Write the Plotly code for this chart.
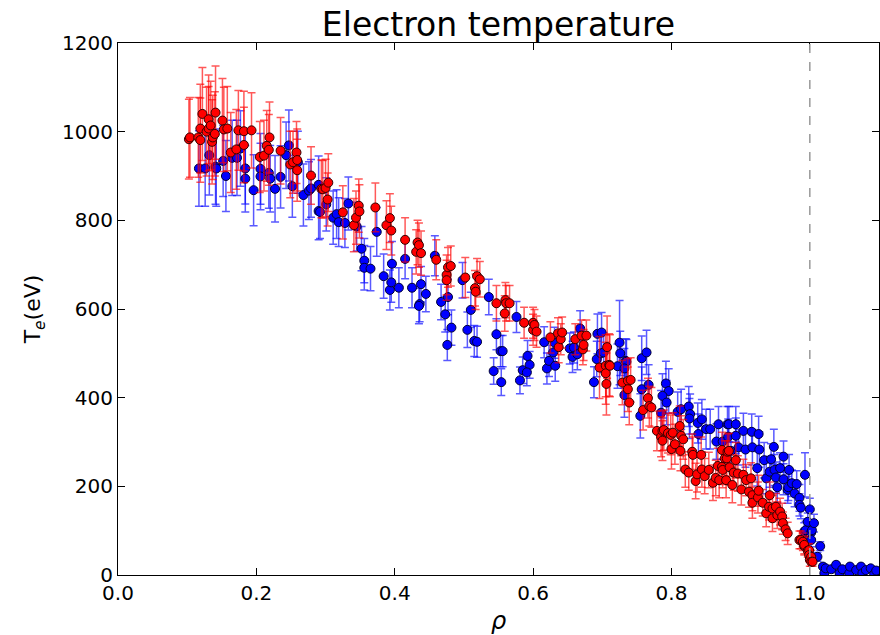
import plotly.graph_objects as go

# ---- data ----
blue_rho = [0.117, 0.126, 0.132, 0.141, 0.142, 0.152, 0.156, 0.165, 0.172, 0.177, 0.184, 0.184, 0.196, 0.206, 0.206,
            0.218, 0.220, 0.227, 0.235, 0.243, 0.247, 0.252, 0.260, 0.268, 0.276, 0.279, 0.290, 0.290,
            0.292, 0.301, 0.311, 0.316, 0.319, 0.328, 0.333, 0.345, 0.352, 0.356, 0.356, 0.365, 0.374, 0.384,
            0.393, 0.396, 0.395, 0.406, 0.415, 0.425, 0.436, 0.435, 0.438, 0.445, 0.458, 0.467, 0.473, 0.477,
            0.482, 0.476, 0.498, 0.505,
            0.510, 0.515, 0.519, 0.536, 0.543, 0.547, 0.553, 0.556, 0.554, 0.576, 0.581, 0.585, 0.592, 0.595,
            0.591, 0.616, 0.620, 0.623, 0.629, 0.632, 0.631, 0.653, 0.657, 0.659, 0.664, 0.668, 0.688, 0.692,
            0.693, 0.699, 0.698, 0.702,
            0.725, 0.726, 0.722, 0.734, 0.735, 0.732, 0.732, 0.757, 0.764, 0.757, 0.767, 0.755, 0.792, 0.796,
            0.787, 0.793, 0.785, 0.809, 0.814, 0.825, 0.827, 0.826, 0.838, 0.844, 0.839, 0.850, 0.856, 0.865,
            0.868, 0.881,
            0.874, 0.882, 0.883, 0.886, 0.893, 0.893, 0.897, 0.904, 0.907, 0.916, 0.917, 0.924, 0.926, 0.927,
            0.934, 0.937, 0.942, 0.944, 0.948, 0.949, 0.951, 0.953, 0.957, 0.962, 0.962, 0.968, 0.969, 0.970,
            0.974, 0.978, 0.981, 0.985, 0.985, 0.987, 0.993, 0.992, 0.994, 0.995, 0.997, 1.000, 1.002, 1.002,
            1.003, 1.006, 1.011, 1.015, 1.019, 1.021, 1.023, 1.031, 1.038, 1.043, 1.047, 1.057, 1.058, 1.067,
            1.074, 1.076, 1.081, 1.088, 1.093, 1.096]
blue_te = [917, 917, 947, 921, 917, 934, 900, 941, 941, 962, 917, 894, 868, 916, 899,
           907, 894, 871, 898, 947, 969, 877, 931, 857, 867, 872, 880, 821,
           819, 836, 806, 814, 796, 794, 838, 786, 736, 709, 693, 691, 774, 674,
           643, 702, 660, 648, 713, 648, 611, 607, 656, 634, 720, 616, 588, 627,
           558, 519, 665, 553,
           598, 528, 526, 627, 460, 543, 505, 505, 435, 582, 439, 462, 494, 474,
           457, 525, 466, 483, 502, 472, 524, 511, 492, 513, 498, 556, 435, 487,
           544, 547, 500, 502,
           524, 500, 471, 483, 481, 466, 406, 489, 502, 419, 429, 359, 432, 415,
           404, 389, 366, 368, 374, 380, 363, 353, 343, 351, 318, 329, 329, 301,
           340, 340,
           301, 312, 340, 280, 340, 314, 288, 325, 283, 323, 288, 241, 318, 283,
           259, 218, 233, 261, 289, 237, 220, 198, 241, 267, 216, 192, 198, 237,
           207, 184, 205, 174, 158, 152, 226, 98, 101, 77, 120, 148, 96, 79,
           101, 117, 41, 65, 19, 4, 15, 13, 23, 4, 13, 4, 19, 11,
           19, 4, 11, 15, 2, 10]
blue_err = [85, 85, 90, 85, 85, 80, 80, 85, 85, 85, 80, 75, 80, 80, 75,
            80, 75, 75, 70, 75, 80, 70, 70, 70, 65, 65, 65, 65,
            60, 60, 60, 55, 55, 55, 60, 55, 50, 50, 50, 50, 55, 50,
            45, 50, 45, 45, 45, 45, 40, 40, 40, 40, 45, 40, 40, 40,
            40, 35, 40, 40,
            40, 35, 35, 40, 30, 35, 35, 35, 30, 35, 30, 30, 35, 30,
            30, 35, 35, 35, 35, 35, 35, 35, 35, 35, 35, 40, 35, 40,
            45, 45, 40, 45,
            95, 50, 50, 50, 50, 45, 50, 50, 50, 50, 45, 50, 50, 50,
            50, 50, 50, 45, 45, 45, 45, 45, 45, 45, 45, 45, 45, 40,
            40, 40,
            40, 40, 40, 40, 40, 40, 40, 40, 40, 40, 40, 40, 40, 40,
            40, 35, 35, 35, 40, 35, 35, 35, 35, 35, 35, 30, 30, 35,
            30, 30, 30, 30, 25, 25, 50, 20, 20, 20, 20, 25, 20, 15,
            20, 20, 10, 10, 5, 3, 5, 5, 5, 3, 5, 3, 5, 5,
            5, 3, 5, 5, 3, 5]

red_rho = [0.1025, 0.104, 0.116, 0.119, 0.119, 0.122, 0.128, 0.131, 0.131, 0.134, 0.136, 0.137, 0.140, 0.141,
           0.151, 0.153, 0.158, 0.163, 0.171, 0.174, 0.182, 0.182, 0.193, 0.205, 0.211, 0.215, 0.218, 0.219,
           0.235, 0.249, 0.253, 0.258, 0.259, 0.259, 0.279, 0.294, 0.296, 0.300, 0.304, 0.303,
           0.325, 0.341, 0.344, 0.348, 0.349, 0.372, 0.388, 0.393, 0.395, 0.415, 0.431, 0.433, 0.435, 0.438,
           0.460, 0.475, 0.475, 0.477, 0.481, 0.502, 0.516, 0.517, 0.519, 0.523, 0.547, 0.559, 0.560, 0.561,
           0.566, 0.587, 0.600, 0.600, 0.602, 0.605, 0.625, 0.636, 0.637, 0.640, 0.642, 0.661, 0.670, 0.672,
           0.673, 0.677, 0.696, 0.705, 0.705, 0.706, 0.707, 0.710, 0.711,
           0.729, 0.737, 0.737, 0.739, 0.741, 0.759, 0.766, 0.768, 0.771, 0.779, 0.785, 0.787, 0.787, 0.789,
           0.795, 0.799, 0.800, 0.802, 0.805, 0.812, 0.813, 0.814, 0.817, 0.820, 0.825, 0.830, 0.831, 0.835,
           0.837, 0.843, 0.844, 0.848, 0.854, 0.860, 0.864, 0.867, 0.869, 0.873, 0.873, 0.874, 0.877, 0.879,
           0.880, 0.881, 0.883, 0.884, 0.888, 0.890, 0.893, 0.896, 0.901, 0.904, 0.908, 0.912, 0.915, 0.917,
           0.917, 0.925, 0.926, 0.932, 0.937, 0.941, 0.942, 0.946, 0.946, 0.951, 0.953, 0.957, 0.960, 0.961,
           0.965, 0.968, 0.985, 0.987, 0.990, 0.992, 0.992, 0.997, 0.999, 0.999, 1.000, 1.002, 1.002, 1.004]
red_te = [983, 987, 987, 981, 1007, 1040, 1000, 1028, 1007, 1014, 977, 987, 995, 1043,
          1025, 1005, 1007, 953, 960, 1003, 1001, 970, 1003, 943, 946, 968, 959, 987,
          957, 926, 931, 953, 936, 913, 901, 871, 870, 873, 885, 847,
          818, 789, 806, 833, 820, 829, 789, 805, 777, 756, 729, 750, 744, 726,
          711, 677, 665, 694, 697, 671, 647, 639, 674, 667, 613, 590, 620, 613,
          613, 569, 569, 553, 564, 549, 536, 545, 514, 532, 547, 532, 540, 509,
          519, 540, 468, 472, 455, 431, 514, 474, 472,
          434, 438, 419, 389, 440, 372, 399, 381, 378, 325, 312, 325, 303, 327,
          320, 316, 284, 321, 295, 336, 280, 314, 306, 238, 231, 278, 271, 212,
          227, 271, 238, 223, 237, 208, 219, 246, 214, 282, 244, 237, 263, 214,
          263, 278, 280, 243, 203, 231, 259, 229, 193, 226, 214, 188, 218, 180,
          163, 175, 190, 163, 139, 154, 180, 150, 128, 154, 135, 143, 132, 117,
          103, 94, 79, 79, 75, 65, 68, 55, 56, 45, 35, 41, 30, 30]
red_err = [90, 90, 90, 95, 100, 105, 100, 100, 95, 100, 95, 95, 95, 105,
           95, 95, 95, 90, 90, 90, 90, 85, 85, 80, 80, 80, 80, 80,
           75, 75, 70, 70, 70, 70, 65, 65, 65, 65, 65, 60,
           60, 60, 60, 60, 60, 55, 55, 55, 55, 50, 50, 50, 50, 50,
           45, 45, 45, 45, 45, 45, 40, 40, 40, 40, 40, 40, 40, 40,
           40, 35, 35, 35, 35, 35, 35, 35, 35, 35, 35, 35, 35, 35,
           35, 35, 70, 70, 70, 70, 70, 70, 70,
           50, 50, 50, 50, 50, 45, 45, 45, 45, 45, 45, 45, 45, 45,
           45, 45, 45, 45, 45, 45, 45, 45, 45, 40, 40, 40, 40, 40,
           40, 40, 40, 40, 40, 40, 40, 40, 40, 40, 40, 40, 40, 40,
           40, 40, 40, 40, 40, 40, 40, 40, 35, 35, 35, 35, 35, 35,
           35, 35, 35, 30, 30, 30, 30, 30, 30, 30, 30, 30, 30, 25,
           25, 25, 20, 20, 20, 20, 20, 15, 15, 15, 15, 15, 10, 10]

x_ticks = [0.0, 0.2, 0.4, 0.6, 0.8, 1.0]
x_tick_labels = ["0.0", "0.2", "0.4", "0.6", "0.8", "1.0"]
y_ticks = [0, 200, 400, 600, 800, 1000, 1200]
separatrix = 1.0

FONT = "DejaVu Sans"

fig = go.Figure()

fig.add_trace(go.Scatter(
    x=blue_rho, y=blue_te, mode="markers",
    marker=dict(color="#0000ff", size=9, line=dict(color="#000033", width=1)),
    error_y=dict(type="data", array=blue_err, visible=True,
                 color="rgba(0,0,255,0.65)", thickness=1.5, width=4),
    showlegend=False, hoverinfo="x+y"))

fig.add_trace(go.Scatter(
    x=red_rho, y=red_te, mode="markers",
    marker=dict(color="#ff0000", size=9, line=dict(color="#330000", width=1)),
    error_y=dict(type="data", array=red_err, visible=True,
                 color="rgba(255,0,0,0.65)", thickness=1.5, width=4),
    showlegend=False, hoverinfo="x+y"))

fig.add_shape(type="line", x0=separatrix, x1=separatrix, xref="x",
              y0=0, y1=1, yref="paper",
              line=dict(color="#999999", width=1.5, dash="dash"))

axis_common = dict(showline=True, linecolor="black", linewidth=1, mirror="ticks",
                   ticks="inside", ticklen=7, tickwidth=1, tickcolor="black",
                   showgrid=False, zeroline=False,
                   tickfont=dict(family=FONT, size=20, color="black"))

fig.update_xaxes(range=[0, 1.1], tickvals=x_ticks, ticktext=x_tick_labels,
                 title=dict(text="<i>ρ</i>", font=dict(family=FONT, size=24, color="black"),
                            standoff=10),
                 **axis_common)
fig.update_yaxes(range=[0, 1200], tickvals=y_ticks,
                 title=dict(text="T<sub><i>e</i></sub>(eV)", font=dict(family=FONT, size=22, color="black"),
                            standoff=15),
                 **axis_common)

fig.update_layout(
    width=880, height=635,
    margin=dict(l=118, r=1, t=43, b=60, autoexpand=False),
    paper_bgcolor="white", plot_bgcolor="white",
    title=dict(text="Electron temperature", x=498.5 / 880, xanchor="center",
               y=1 - 24 / 635, yanchor="middle", yref="container",
               font=dict(family=FONT, size=33, color="black")),
    font=dict(family=FONT, color="black"),
)

# remove the page's default body margin so the 880x635 figure fills the window exactly
fig.write_html("out.html",
               config={"displayModeBar": False},
               post_script="document.body.style.margin='0';document.body.style.overflow='hidden';")
